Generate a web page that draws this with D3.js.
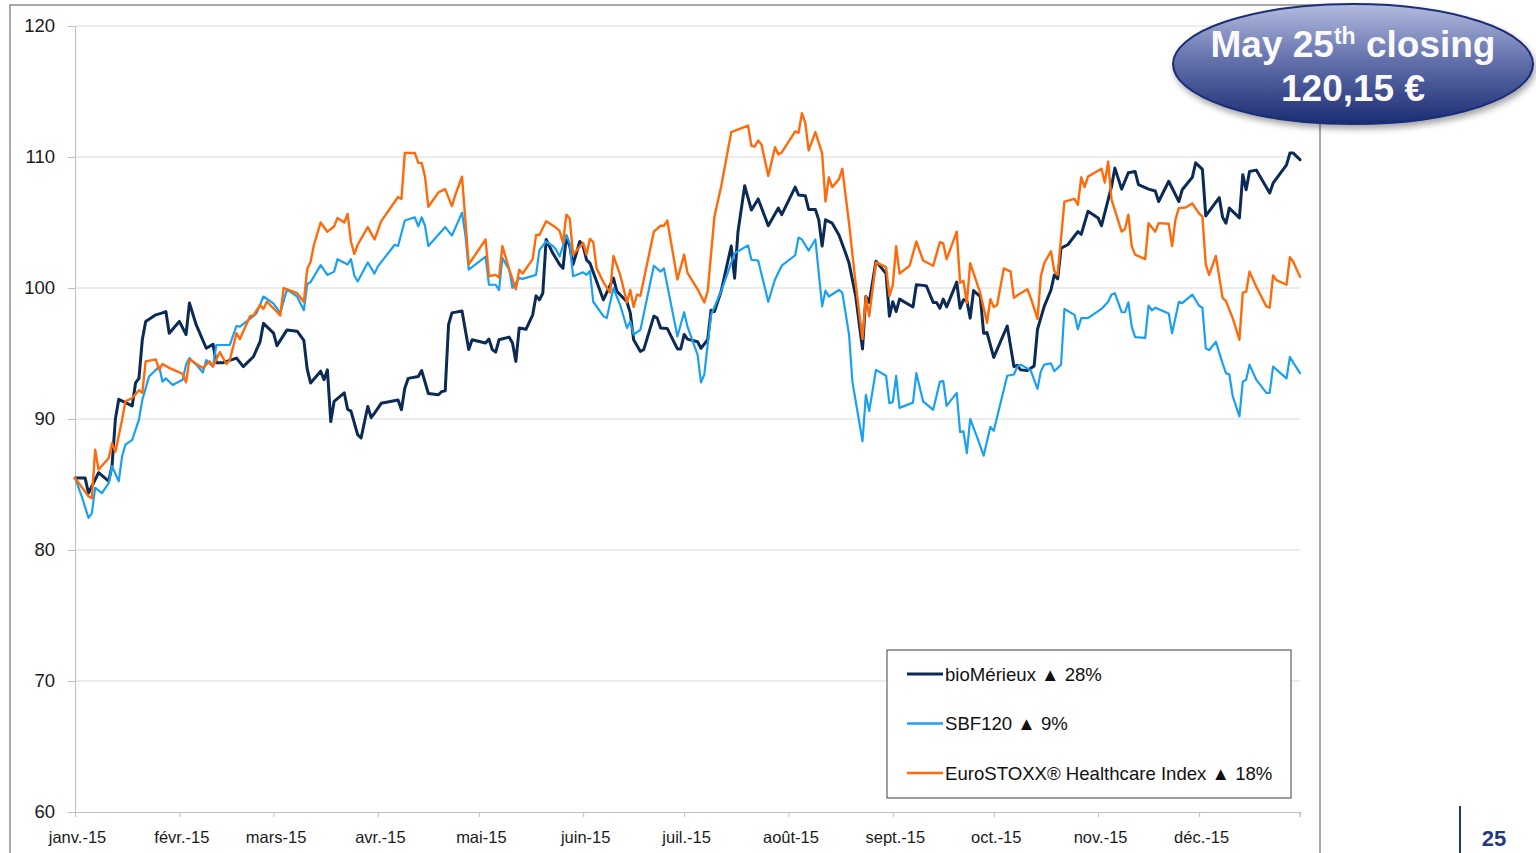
<!DOCTYPE html>
<html><head><meta charset="utf-8">
<script src="https://cdn.jsdelivr.net/npm/d3@7"></script>
<style>
html,body{margin:0;padding:0;background:#fff;overflow:hidden}
svg{display:block}
</style></head>
<body>
<svg id="chart" width="1536" height="853"></svg>
<script>
// ---------------- DATA ----------------
const seriesNames = ["bioMérieux ▲ 28%", "SBF120 ▲ 9%", "EuroSTOXX® Healthcare Index ▲ 18%"];
const yTicks = [60, 70, 80, 90, 100, 110, 120];
const monthLabels = ["janv.-15","févr.-15","mars-15","avr.-15","mai-15","juin-15","juil.-15","août-15","sept.-15","oct.-15","nov.-15","déc.-15"];
const calloutLines = ["May 25", "th", " closing", "120,15 €"];
const pageNumber = "25";

const bioMerieux = [
["2015-01-01",85.5],["2015-01-04",85.5],["2015-01-05",84.35],["2015-01-06",84.85],["2015-01-08",85.9],["2015-01-11",85.25],
["2015-01-12",86.4],["2015-01-13",90.0],["2015-01-14",91.5],["2015-01-18",91.0],["2015-01-19",92.75],["2015-01-20",93.1],
["2015-01-21",96.05],["2015-01-22",97.45],["2015-01-25",97.95],["2015-01-27",98.1],["2015-01-28",98.2],["2015-01-29",96.55],
["2015-02-01",97.45],["2015-02-03",96.45],["2015-02-04",98.85],["2015-02-06",97.2],["2015-02-09",95.4],["2015-02-11",95.7],
["2015-02-12",94.3],["2015-02-14",94.3],["2015-02-18",94.65],["2015-02-20",94.0],["2015-02-23",94.75],["2015-02-25",95.9],
["2015-02-26",97.3],["2015-03-01",96.55],["2015-03-02",95.6],["2015-03-05",96.8],["2015-03-08",96.7],["2015-03-10",96.0],
["2015-03-11",93.8],["2015-03-12",92.75],["2015-03-15",93.65],["2015-03-16",93.0],["2015-03-17",93.75],["2015-03-18",89.8],
["2015-03-19",91.35],["2015-03-22",92.0],["2015-03-23",90.75],["2015-03-24",90.6],["2015-03-26",88.8],["2015-03-27",88.55],
["2015-03-29",90.95],["2015-03-30",90.1],["2015-03-31",90.45],["2015-04-02",91.2],["2015-04-07",91.45],["2015-04-08",90.7],
["2015-04-09",92.35],["2015-04-10",93.1],["2015-04-13",93.25],["2015-04-14",93.7],["2015-04-16",91.95],["2015-04-19",91.85],
["2015-04-20",92.1],["2015-04-21",92.15],["2015-04-22",97.2],["2015-04-23",98.1],["2015-04-26",98.25],["2015-04-28",95.3],
["2015-04-29",96.05],["2015-05-03",95.8],["2015-05-04",96.1],["2015-05-05",95.3],["2015-05-06",95.1],["2015-05-07",96.05],
["2015-05-10",96.25],["2015-05-11",95.8],["2015-05-12",94.4],["2015-05-13",96.95],["2015-05-15",96.85],["2015-05-17",97.95],
["2015-05-18",99.4],["2015-05-19",99.1],["2015-05-20",99.6],["2015-05-21",103.7],["2015-05-23",102.65],["2015-05-25",101.8],
["2015-05-26",101.5],["2015-05-27",103.95],["2015-05-28",103.2],["2015-05-29",101.8],["2015-05-31",103.55],["2015-06-01",103.2],
["2015-06-02",102.15],["2015-06-03",101.9],["2015-06-07",99.1],["2015-06-10",100.75],["2015-06-11",99.75],["2015-06-14",98.95],
["2015-06-15",98.1],["2015-06-16",96.05],["2015-06-18",95.15],["2015-06-19",95.3],["2015-06-22",97.85],["2015-06-23",97.7],
["2015-06-24",96.95],["2015-06-26",96.9],["2015-06-29",95.35],["2015-06-30",95.35],["2015-07-01",96.45],["2015-07-02",96.1],
["2015-07-05",95.9],["2015-07-06",95.4],["2015-07-08",96.05],["2015-07-09",98.3],["2015-07-10",98.2],["2015-07-12",99.75],
["2015-07-15",103.2],["2015-07-16",100.75],["2015-07-17",104.3],["2015-07-19",107.8],["2015-07-21",105.95],["2015-07-23",106.8],
["2015-07-26",104.75],["2015-07-29",106.1],["2015-07-30",105.6],["2015-08-03",107.7],["2015-08-04",107.1],["2015-08-06",107.05],
["2015-08-07",106.0],["2015-08-09",106.0],["2015-08-10",105.2],["2015-08-11",103.2],["2015-08-12",105.2],["2015-08-14",104.95],
["2015-08-16",104.05],["2015-08-18",102.65],["2015-08-19",101.9],["2015-08-21",99.35],["2015-08-23",95.35],["2015-08-24",99.35],
["2015-08-25",98.9],["2015-08-27",102.05],["2015-08-30",101.1],["2015-08-31",97.85],["2015-09-01",98.95],["2015-09-02",98.2],
["2015-09-03",99.15],["2015-09-07",98.55],["2015-09-08",100.25],["2015-09-10",100.2],["2015-09-11",100.15],["2015-09-13",98.9],
["2015-09-14",98.9],["2015-09-15",98.45],["2015-09-16",99.15],["2015-09-17",98.55],["2015-09-20",100.45],["2015-09-21",98.45],
["2015-09-22",99.1],["2015-09-23",99.05],["2015-09-24",97.7],["2015-09-25",99.8],["2015-09-27",99.35],["2015-09-28",96.55],
["2015-09-29",96.6],["2015-10-01",94.7],["2015-10-05",97.1],["2015-10-07",94.0],["2015-10-08",94.1],["2015-10-09",93.75],
["2015-10-11",93.7],["2015-10-13",94.05],["2015-10-14",96.85],["2015-10-16",98.6],["2015-10-18",99.85],["2015-10-19",101.0],
["2015-10-20",100.7],["2015-10-21",103.05],["2015-10-23",103.3],["2015-10-26",104.3],["2015-10-27",104.1],["2015-10-29",105.85],
["2015-11-01",105.35],["2015-11-02",104.75],["2015-11-04",106.75],["2015-11-05",107.75],["2015-11-06",109.15],["2015-11-08",107.55],
["2015-11-10",108.8],["2015-11-12",108.9],["2015-11-13",107.9],["2015-11-16",107.55],["2015-11-18",107.4],["2015-11-19",106.6],
["2015-11-22",108.15],["2015-11-25",106.6],["2015-11-26",107.5],["2015-11-29",108.45],["2015-11-30",109.55],["2015-12-02",109.05],
["2015-12-03",105.5],["2015-12-07",106.9],["2015-12-08",105.4],["2015-12-09",104.95],["2015-12-10",106.1],["2015-12-13",105.35],
["2015-12-14",108.65],["2015-12-15",107.5],["2015-12-16",108.9],["2015-12-18",109.0],["2015-12-22",107.25],["2015-12-23",108.0],
["2015-12-27",109.4],["2015-12-28",110.3],["2015-12-29",110.3],["2015-12-31",109.8]
];

const sbf120 = [
["2015-01-01",85.5],["2015-01-03",84.1],["2015-01-05",82.45],["2015-01-06",82.8],["2015-01-07",84.75],["2015-01-09",84.35],
["2015-01-11",85.1],["2015-01-12",86.4],["2015-01-14",85.25],["2015-01-15",87.15],["2015-01-16",88.05],["2015-01-18",88.4],
["2015-01-20",89.95],["2015-01-21",91.45],["2015-01-23",93.25],["2015-01-26",94.0],["2015-01-27",92.85],["2015-01-28",93.1],
["2015-01-30",92.6],["2015-02-02",93.0],["2015-02-03",94.15],["2015-02-04",94.65],["2015-02-06",94.15],["2015-02-08",93.55],
["2015-02-09",94.5],["2015-02-11",94.0],["2015-02-12",95.65],["2015-02-16",95.65],["2015-02-18",97.1],["2015-02-19",97.05],
["2015-02-23",97.85],["2015-02-24",98.1],["2015-02-26",99.35],["2015-03-01",98.8],["2015-03-03",98.1],["2015-03-05",99.9],
["2015-03-08",99.35],["2015-03-10",98.3],["2015-03-11",100.3],["2015-03-12",100.45],["2015-03-15",101.75],["2015-03-17",101.0],
["2015-03-19",101.25],["2015-03-20",102.2],["2015-03-23",101.8],["2015-03-24",102.2],["2015-03-25",100.95],["2015-03-26",100.5],
["2015-03-29",101.95],["2015-03-31",101.1],["2015-04-01",101.65],["2015-04-06",103.3],["2015-04-07",103.2],["2015-04-09",105.15],
["2015-04-12",105.4],["2015-04-13",104.7],["2015-04-14",105.4],["2015-04-15",104.75],["2015-04-16",103.2],["2015-04-21",104.65],
["2015-04-23",104.0],["2015-04-26",105.75],["2015-04-27",104.05],["2015-04-28",101.4],["2015-05-03",102.4],["2015-05-04",100.25],
["2015-05-06",100.25],["2015-05-07",99.85],["2015-05-08",102.3],["2015-05-10",101.4],["2015-05-11",100.0],["2015-05-13",100.75],
["2015-05-14",100.7],["2015-05-18",101.0],["2015-05-19",102.9],["2015-05-21",103.55],["2015-05-23",103.2],["2015-05-24",102.9],
["2015-05-25",102.4],["2015-05-27",104.05],["2015-05-28",103.4],["2015-05-29",100.9],["2015-06-01",101.2],["2015-06-02",101.0],
["2015-06-03",101.3],["2015-06-04",98.95],["2015-06-07",97.85],["2015-06-08",97.7],["2015-06-10",100.0],["2015-06-12",98.7],
["2015-06-14",96.95],["2015-06-15",97.45],["2015-06-16",96.45],["2015-06-18",96.8],["2015-06-22",101.7],["2015-06-24",101.25],
["2015-06-25",101.5],["2015-06-29",96.3],["2015-07-01",98.15],["2015-07-02",97.05],["2015-07-05",94.9],["2015-07-06",92.8],
["2015-07-07",93.4],["2015-07-09",97.95],["2015-07-12",99.75],["2015-07-16",102.65],["2015-07-20",103.25],["2015-07-21",102.15],
["2015-07-23",102.1],["2015-07-26",98.95],["2015-07-28",100.65],["2015-07-30",101.7],["2015-08-03",102.5],["2015-08-04",103.85],
["2015-08-05",103.7],["2015-08-07",102.85],["2015-08-09",103.7],["2015-08-11",98.6],["2015-08-12",99.8],["2015-08-13",99.35],
["2015-08-16",99.85],["2015-08-17",99.65],["2015-08-19",96.45],["2015-08-20",92.85],["2015-08-23",88.3],["2015-08-24",91.85],
["2015-08-25",90.6],["2015-08-27",93.75],["2015-08-30",93.3],["2015-08-31",91.2],["2015-09-01",91.3],["2015-09-02",93.3],
["2015-09-03",90.85],["2015-09-07",91.25],["2015-09-08",93.5],["2015-09-10",91.35],["2015-09-13",90.7],["2015-09-15",92.85],
["2015-09-16",92.9],["2015-09-17",91.0],["2015-09-20",92.0],["2015-09-21",89.0],["2015-09-22",89.05],["2015-09-23",87.4],
["2015-09-24",90.0],["2015-09-26",88.65],["2015-09-28",87.2],["2015-09-30",89.4],["2015-10-01",89.1],["2015-10-03",91.2],
["2015-10-05",93.3],["2015-10-07",93.4],["2015-10-08",94.0],["2015-10-09",94.15],["2015-10-12",93.7],["2015-10-14",92.3],
["2015-10-15",93.65],["2015-10-16",94.15],["2015-10-18",94.25],["2015-10-19",93.65],["2015-10-21",94.15],["2015-10-22",98.4],
["2015-10-25",97.95],["2015-10-26",96.85],["2015-10-27",97.7],["2015-10-29",97.7],["2015-11-02",98.4],["2015-11-04",98.95],
["2015-11-05",99.5],["2015-11-06",99.6],["2015-11-08",98.15],["2015-11-09",98.15],["2015-11-10",98.9],["2015-11-11",97.05],
["2015-11-12",96.25],["2015-11-15",96.2],["2015-11-16",98.65],["2015-11-17",98.3],["2015-11-18",98.5],["2015-11-22",98.05],
["2015-11-23",96.55],["2015-11-25",98.95],["2015-11-26",98.85],["2015-11-29",99.5],["2015-12-01",98.65],["2015-12-02",98.5],
["2015-12-03",95.4],["2015-12-04",95.25],["2015-12-06",95.9],["2015-12-08",94.25],["2015-12-09",93.5],["2015-12-10",93.4],
["2015-12-11",91.75],["2015-12-13",90.2],["2015-12-14",92.85],["2015-12-15",93.0],["2015-12-16",94.15],["2015-12-18",93.0],
["2015-12-21",92.0],["2015-12-22",92.0],["2015-12-23",94.0],["2015-12-27",93.1],["2015-12-28",94.75],["2015-12-29",94.3],
["2015-12-31",93.5]
];

const euroStoxxHealthcare = [
["2015-01-01",85.5],["2015-01-05",84.1],["2015-01-06",83.95],["2015-01-07",87.65],["2015-01-08",86.15],["2015-01-11",87.0],
["2015-01-12",88.15],["2015-01-13",87.5],["2015-01-15",89.95],["2015-01-16",91.35],["2015-01-18",91.6],["2015-01-20",92.2],
["2015-01-21",92.0],["2015-01-22",94.4],["2015-01-25",94.55],["2015-01-26",93.75],["2015-01-27",94.2],["2015-01-29",93.9],
["2015-02-02",93.45],["2015-02-03",92.8],["2015-02-04",94.55],["2015-02-08",93.9],["2015-02-10",94.4],["2015-02-11",94.0],
["2015-02-13",95.1],["2015-02-15",94.2],["2015-02-16",94.5],["2015-02-18",96.55],["2015-02-19",96.1],["2015-02-22",97.85],
["2015-02-23",97.9],["2015-02-25",98.7],["2015-02-26",98.4],["2015-02-27",98.95],["2015-03-01",98.45],["2015-03-03",97.9],
["2015-03-04",100.0],["2015-03-08",99.6],["2015-03-10",98.95],["2015-03-11",101.45],["2015-03-12",102.0],["2015-03-13",103.3],
["2015-03-15",105.0],["2015-03-17",104.3],["2015-03-19",104.7],["2015-03-20",105.35],["2015-03-22",105.0],["2015-03-23",105.65],
["2015-03-24",103.55],["2015-03-25",102.6],["2015-03-26",103.3],["2015-03-29",104.65],["2015-03-31",103.7],["2015-04-02",105.1],
["2015-04-07",106.95],["2015-04-08",106.8],["2015-04-09",110.3],["2015-04-12",110.3],["2015-04-13",109.55],["2015-04-14",109.55],
["2015-04-15",108.5],["2015-04-16",106.2],["2015-04-19",107.3],["2015-04-21",107.55],["2015-04-23",106.25],["2015-04-24",107.1],
["2015-04-26",108.5],["2015-04-28",101.8],["2015-05-03",103.7],["2015-05-04",100.9],["2015-05-06",101.0],["2015-05-07",100.8],
["2015-05-08",103.2],["2015-05-10",101.45],["2015-05-12",99.9],["2015-05-13",101.4],["2015-05-14",101.1],["2015-05-17",102.2],
["2015-05-18",104.05],["2015-05-19",104.05],["2015-05-21",105.1],["2015-05-24",104.6],["2015-05-25",104.35],["2015-05-26",103.45],
["2015-05-27",105.6],["2015-05-28",105.3],["2015-05-29",102.55],["2015-06-01",103.45],["2015-06-02",102.55],["2015-06-03",103.75],
["2015-06-04",103.5],["2015-06-05",101.5],["2015-06-07",100.45],["2015-06-09",99.65],["2015-06-10",102.45],["2015-06-12",101.0],
["2015-06-14",98.9],["2015-06-15",99.85],["2015-06-16",98.55],["2015-06-17",99.5],["2015-06-18",99.4],["2015-06-22",104.3],
["2015-06-24",104.75],["2015-06-25",104.75],["2015-06-26",105.15],["2015-06-29",100.65],["2015-07-01",102.55],["2015-07-02",101.15],
["2015-07-05",99.9],["2015-07-07",98.9],["2015-07-08",99.75],["2015-07-10",105.45],["2015-07-12",107.75],["2015-07-15",111.9],
["2015-07-20",112.4],["2015-07-21",110.85],["2015-07-22",110.8],["2015-07-23",111.25],["2015-07-24",110.95],["2015-07-26",108.55],
["2015-07-28",110.75],["2015-07-29",110.2],["2015-07-30",110.35],["2015-08-03",111.95],["2015-08-04",111.85],["2015-08-05",113.35],
["2015-08-06",112.6],["2015-08-07",110.5],["2015-08-09",111.9],["2015-08-11",110.3],["2015-08-12",106.6],["2015-08-13",108.45],
["2015-08-14",107.7],["2015-08-16",108.3],["2015-08-17",109.1],["2015-08-19",104.95],["2015-08-21",100.25],["2015-08-23",96.1],
["2015-08-24",99.35],["2015-08-25",97.85],["2015-08-27",101.95],["2015-08-30",101.6],["2015-08-31",99.4],["2015-09-01",100.2],
["2015-09-02",103.2],["2015-09-03",101.1],["2015-09-06",101.7],["2015-09-08",103.55],["2015-09-10",102.1],["2015-09-13",101.7],
["2015-09-15",103.5],["2015-09-16",103.4],["2015-09-17",102.2],["2015-09-20",104.3],["2015-09-21",100.4],["2015-09-22",100.55],
["2015-09-23",98.85],["2015-09-24",101.9],["2015-09-27",99.6],["2015-09-29",97.35],["2015-09-30",99.15],["2015-10-01",98.55],
["2015-10-02",98.7],["2015-10-04",101.5],["2015-10-06",101.25],["2015-10-07",99.25],["2015-10-08",99.45],["2015-10-11",99.9],
["2015-10-12",99.25],["2015-10-14",97.65],["2015-10-15",100.9],["2015-10-16",101.9],["2015-10-18",102.8],["2015-10-19",101.3],
["2015-10-20",101.0],["2015-10-22",106.6],["2015-10-25",106.8],["2015-10-26",106.35],["2015-10-27",108.45],["2015-10-28",107.7],
["2015-10-29",108.5],["2015-11-02",109.1],["2015-11-03",108.05],["2015-11-04",109.65],["2015-11-05",106.75],["2015-11-08",104.3],
["2015-11-09",104.5],["2015-11-10",105.6],["2015-11-11",103.2],["2015-11-12",102.55],["2015-11-15",102.2],["2015-11-16",104.95],
["2015-11-18",104.3],["2015-11-19",104.95],["2015-11-22",104.9],["2015-11-23",103.2],["2015-11-24",105.25],["2015-11-25",106.1],
["2015-11-27",106.15],["2015-11-29",106.45],["2015-12-01",105.7],["2015-12-02",105.45],["2015-12-03",101.8],["2015-12-04",101.0],
["2015-12-06",102.45],["2015-12-08",99.25],["2015-12-09",99.0],["2015-12-11",97.7],["2015-12-13",96.05],["2015-12-14",99.65],
["2015-12-15",99.7],["2015-12-16",101.25],["2015-12-18",100.1],["2015-12-21",98.6],["2015-12-22",98.5],["2015-12-23",100.95],
["2015-12-24",100.6],["2015-12-27",100.25],["2015-12-28",102.35],["2015-12-29",102.0],["2015-12-31",100.85]
];

const seriesColors = ["#0b2a55", "#1aa0f2", "#ff6a0a"];
const seriesWidths = [3, 2.2, 2.4];

// ---------------- CHART ----------------
const svg = d3.select("#chart");
const parse = d3.timeParse("%Y-%m-%d");
const margin = {left: 75, right: 236, top: 26, bottom: 41};
const W = 1536, H = 853;
const FONT = "'Liberation Sans', Arial, sans-serif";

const x = d3.scaleTime()
  .domain([parse("2015-01-01"), parse("2015-12-31")])
  .range([margin.left, W - margin.right]);
const y = d3.scaleLinear().domain([60, 120]).range([H - margin.bottom, margin.top]);

const defs = svg.append("defs");
const grad = defs.append("linearGradient").attr("id", "ellGrad").attr("x1", 0).attr("y1", 0).attr("x2", 0).attr("y2", 1);
grad.append("stop").attr("offset", "0%").attr("stop-color", "#b3bcdf");
grad.append("stop").attr("offset", "45%").attr("stop-color", "#6673ad");
grad.append("stop").attr("offset", "100%").attr("stop-color", "#1b2c74");
const filt = defs.append("filter").attr("id", "shadow").attr("x", "-20%").attr("y", "-20%").attr("width", "140%").attr("height", "150%");
filt.append("feDropShadow").attr("dx", 2).attr("dy", 4).attr("stdDeviation", 3).attr("flood-color", "#000").attr("flood-opacity", 0.35);

// outer frame
svg.append("rect").attr("x", 10).attr("y", 5).attr("width", 1310).attr("height", 860)
  .attr("fill", "none").attr("stroke", "#8c8c8c").attr("stroke-width", 1.5);

// gridlines
svg.append("g").selectAll("line").data(yTicks.filter(d => d > 60)).join("line")
  .attr("x1", margin.left).attr("x2", W - margin.right)
  .attr("y1", d => y(d)).attr("y2", d => y(d))
  .attr("stroke", "#d9d9d9").attr("stroke-width", 1);

// y axis
const yAxis = svg.append("g").attr("transform", `translate(${margin.left},0)`)
  .call(d3.axisLeft(y).tickValues(yTicks).tickSize(7).tickPadding(13).tickFormat(d3.format("d")));
yAxis.select(".domain").attr("stroke", "#bfbfbf");
yAxis.selectAll(".tick line").attr("stroke", "#bfbfbf");
yAxis.selectAll("text").attr("font-family", FONT).attr("font-size", 18.5).attr("fill", "#1a1a1a");

// x axis
const monthDates = d3.range(12).map(m => new Date(2015, m, 1));
const xAxis = svg.append("g").attr("transform", `translate(0,${H - margin.bottom})`)
  .call(d3.axisBottom(x).tickValues(monthDates).tickSize(5).tickPadding(14).tickFormat((d, i) => monthLabels[i]));
xAxis.select(".domain").attr("stroke", "#bfbfbf");
xAxis.selectAll(".tick line").attr("stroke", "#bfbfbf");
xAxis.selectAll("text").attr("font-family", FONT).attr("font-size", 16.5).attr("fill", "#1a1a1a").attr("dx", 2);
// end tick
svg.append("line").attr("x1", x(parse("2015-12-31"))).attr("x2", x(parse("2015-12-31")))
  .attr("y1", H - margin.bottom).attr("y2", H - margin.bottom + 5).attr("stroke", "#bfbfbf");

// lines
const line = d3.line().x(d => x(parse(d[0]))).y(d => y(d[1])).curve(d3.curveLinear);
const allSeries = [bioMerieux, sbf120, euroStoxxHealthcare];
svg.append("g").selectAll("path").data(allSeries).join("path")
  .attr("d", d => line(d))
  .attr("fill", "none")
  .attr("stroke", (d, i) => seriesColors[i])
  .attr("stroke-width", (d, i) => seriesWidths[i])
  .attr("stroke-linejoin", "round").attr("stroke-linecap", "round");

// legend
const lg = svg.append("g").attr("transform", "translate(887,650)");
lg.append("rect").attr("width", 404).attr("height", 148).attr("fill", "#fff").attr("stroke", "#404040").attr("stroke-width", 1);
const items = lg.selectAll("g.item").data(seriesNames).join("g").attr("class", "item")
  .attr("transform", (d, i) => `translate(0,${24 + i * 49.5})`);
items.append("line").attr("x1", 20).attr("x2", 56).attr("y1", 0).attr("y2", 0)
  .attr("stroke", (d, i) => seriesColors[i]).attr("stroke-width", (d, i) => i === 0 ? 3 : 2.5);
items.append("text").attr("x", 58).attr("y", 6.5).text(d => d)
  .attr("font-family", FONT).attr("font-size", 18.6).attr("fill", "#111");

// callout ellipse
const cg = svg.append("g");
cg.append("ellipse").attr("cx", 1353).attr("cy", 64).attr("rx", 180).attr("ry", 60)
  .attr("fill", "url(#ellGrad)").attr("stroke", "#1c2d78").attr("stroke-width", 2).attr("filter", "url(#shadow)");
const t1 = cg.append("text").attr("x", 1353).attr("y", 57).attr("text-anchor", "middle")
  .attr("font-family", FONT).attr("font-weight", "bold").attr("font-size", 37).attr("fill", "#fafafa");
t1.append("tspan").text(calloutLines[0]);
t1.append("tspan").text(calloutLines[1]).attr("font-size", 23).attr("dy", -13);
t1.append("tspan").text(calloutLines[2]).attr("dy", 13);
cg.append("text").attr("x", 1353).attr("y", 101).attr("text-anchor", "middle")
  .attr("font-family", FONT).attr("font-weight", "bold").attr("font-size", 37).attr("fill", "#fafafa")
  .text(calloutLines[3]);

// page number
svg.append("line").attr("x1", 1460).attr("x2", 1460).attr("y1", 806).attr("y2", 853).attr("stroke", "#1f3b7c").attr("stroke-width", 2);
svg.append("text").attr("x", 1494).attr("y", 846).attr("text-anchor", "middle")
  .attr("font-family", FONT).attr("font-weight", "bold").attr("font-size", 22).attr("fill", "#1f3b7c")
  .text(pageNumber);
</script>
</body></html>
